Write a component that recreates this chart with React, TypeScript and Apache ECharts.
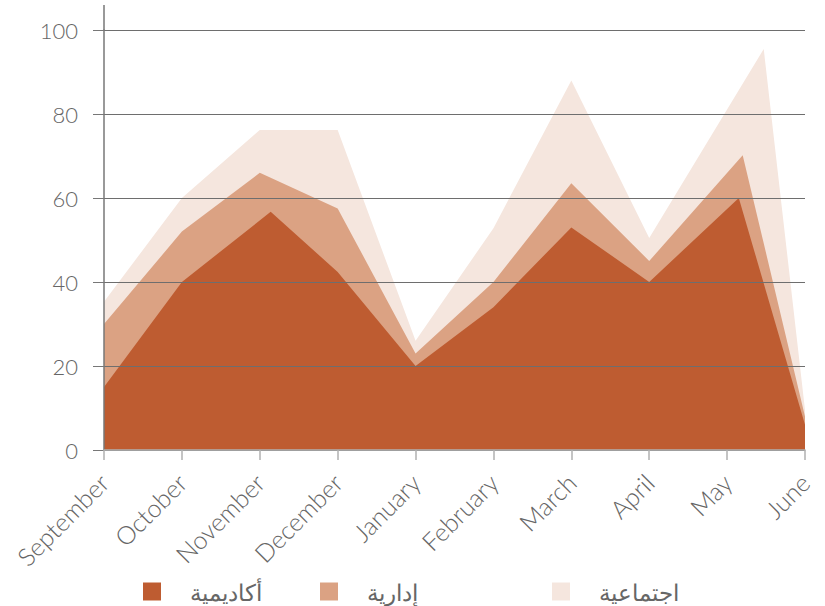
import React, { useEffect, useRef } from "react";
import * as echarts from "echarts";

const months = ["September", "October", "November", "December", "January", "February", "March", "April", "May", "June"];
const seriesNames = ["أكاديمية", "إدارية", "اجتماعية"];
const colors = ["#BE5C31", "#DBA283", "#F5E6DE"];
// [month position, value]
const academic: [number, number][] = [[0, 15], [1, 40], [2.14, 56.7], [3, 42.4], [4, 20], [5, 34], [6, 53], [7, 40], [8.15, 60], [9, 6]];
const administrative: [number, number][] = [[0, 30], [1, 52], [2, 66], [3, 57.5], [4, 23], [5, 40], [6, 63.5], [7, 45], [8.2, 70.2], [9, 8]];
const social: [number, number][] = [[0, 35.3], [1, 60], [2, 76.2], [3, 76.2], [4, 26], [5, 52.8], [6, 88], [7, 50.5], [8.47, 95.5], [9, 9.5]];
const yTicks = [0, 20, 40, 60, 80, 100];

const FONT = "Lato, 'Open Sans', 'DejaVu Sans', sans-serif";

export default function App() {
  const ref = useRef<HTMLDivElement>(null);
  useEffect(() => {
    if (!ref.current) return;
    const chart = echarts.init(ref.current, null, { renderer: "svg" });
    const mk = (name: string, data: [number, number][], color: string, z: number) => ({
      name,
      type: "line",
      data,
      z,
      symbol: "none",
      showSymbol: false,
      lineStyle: { width: 0, color },
      itemStyle: { color },
      areaStyle: { color, opacity: 1 },
    });
    const legendBase = {
      top: 580,
      icon: "rect",
      itemWidth: 18,
      itemHeight: 18,
      padding: 0,
      textStyle: { color: "#666", fontSize: 23, lineHeight: 20, fontFamily: FONT, fontWeight: 300, padding: [0, 0, 0, 24] },
      selectedMode: false,
    };
    chart.setOption({
      animation: false,
      grid: { left: 104, right: 20, top: 30, bottom: 156 },
      xAxis: {
        type: "value",
        min: 0,
        max: 9,
        interval: 1,
        z: 10,
        axisLine: { show: true, lineStyle: { color: "#b0b0b0", width: 1.5 } },
        axisTick: { show: true, length: 10, lineStyle: { color: "#b0b0b0", width: 1.5 } },
        splitLine: { show: false },
        axisLabel: {
          rotate: 45,
          margin: 28,
          color: "#666",
          fontSize: 25,
          fontFamily: FONT,
          fontWeight: 300,
          formatter: (v: number) => months[Math.round(v)] ?? "",
        },
      },
      yAxis: {
        type: "value",
        min: 0,
        max: 100,
        interval: 20,
        z: 10,
        axisLine: { show: true, lineStyle: { color: "#777", width: 1.5 } },
        axisTick: { show: true, length: 11, lineStyle: { color: "#777", width: 1 } },
        splitLine: { show: true, lineStyle: { color: "#6e6e6e", width: 1 } },
        axisLabel: {
          color: "#666",
          fontSize: 22,
          fontFamily: FONT,
          fontWeight: 300,
          margin: 26,
          formatter: (v: number) => (yTicks.includes(v) ? String(v) : ""),
        },
      },
      legend: [
        { ...legendBase, left: 143, data: [seriesNames[0]] },
        { ...legendBase, left: 320, data: [seriesNames[1]] },
        { ...legendBase, left: 552, data: [seriesNames[2]] },
      ],
      graphic: [
        {
          type: "line",
          shape: { x1: 104, y1: 5, x2: 104, y2: 30 },
          style: { stroke: "#777", lineWidth: 1.5 },
        },
      ],
      series: [
        mk(seriesNames[2], social, colors[2], 1),
        mk(seriesNames[1], administrative, colors[1], 2),
        mk(seriesNames[0], academic, colors[0], 3),
      ],
    });
    return () => chart.dispose();
  }, []);
  return <div ref={ref} style={{ width: 825, height: 606, position: "absolute", left: 0, top: 0 }} />;
}
